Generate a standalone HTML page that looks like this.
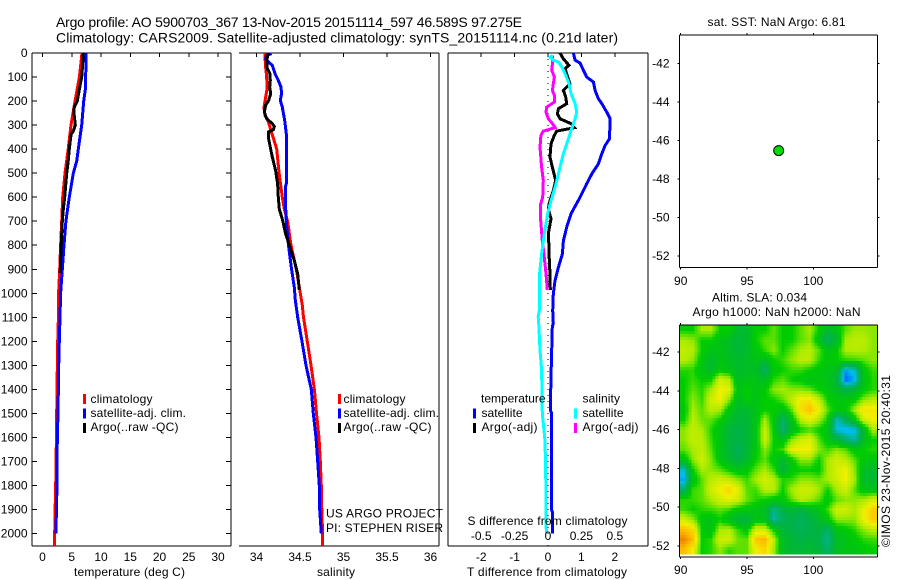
<!DOCTYPE html>
<html lang="en">
<head>
<meta charset="utf-8">
<title>Argo profile 5900703</title>
<style>
html,body{margin:0;padding:0;background:#fff;}
svg{display:block;}
text{font-family:"Liberation Sans",Arial,sans-serif;font-size:12px;fill:#000;}
</style>
</head>
<body>
<svg id="figure" xmlns="http://www.w3.org/2000/svg" width="900" height="580" viewBox="0 0 900 580">
  <rect x="0" y="0" width="900" height="580" fill="#fff"/>
  <text x="56" y="27" style="font-size:14px" textLength="466" lengthAdjust="spacing">Argo profile: AO 5900703_367 13-Nov-2015 20151114_597 46.589S 97.275E</text>
  <text x="56" y="42.5" style="font-size:14px" textLength="562" lengthAdjust="spacing">Climatology: CARS2009. Satellite-adjusted climatology: synTS_20151114.nc (0.21d later)</text>

  <g id="heat"></g>
  <g id="axes"></g>
  <g id="series"></g>
  <g id="labels"></g>

  <text x="74" y="576" textLength="111" lengthAdjust="spacing">temperature (deg C)</text>
  <text x="317" y="576" textLength="38" lengthAdjust="spacing">salinity</text>
  <text x="467.5" y="525" textLength="160" lengthAdjust="spacing">S difference from climatology</text>
  <text x="467" y="576" textLength="160" lengthAdjust="spacing">T difference from climatology</text>
  <text x="326" y="517.5" textLength="117" lengthAdjust="spacing">US ARGO PROJECT</text>
  <text x="326" y="532" textLength="117" lengthAdjust="spacing">PI: STEPHEN RISER</text>

  <g>
    <rect x="83" y="394" width="3" height="10" fill="#f00"/>
    <text x="90.5" y="403" textLength="62" lengthAdjust="spacing">climatology</text>
    <rect x="83" y="408.5" width="3" height="10" fill="#00f"/>
    <text x="90.5" y="417" textLength="95.5" lengthAdjust="spacing">satellite-adj. clim.</text>
    <rect x="83" y="423" width="3" height="10" fill="#000"/>
    <text x="90.5" y="431" textLength="88" lengthAdjust="spacing">Argo(..raw -QC)</text>
  </g>
  <g>
    <rect x="338" y="394" width="3" height="10" fill="#f00"/>
    <text x="343.5" y="403" textLength="62" lengthAdjust="spacing">climatology</text>
    <rect x="338" y="408.5" width="3" height="10" fill="#00f"/>
    <text x="343.5" y="417" textLength="95.5" lengthAdjust="spacing">satellite-adj. clim.</text>
    <rect x="338" y="423" width="3" height="10" fill="#000"/>
    <text x="343.5" y="431" textLength="88" lengthAdjust="spacing">Argo(..raw -QC)</text>
  </g>
  <g>
    <text x="481" y="402.5" textLength="64.5" lengthAdjust="spacing">temperature</text>
    <rect x="473" y="408.5" width="3" height="10" fill="#00f"/>
    <text x="481.5" y="417" textLength="41" lengthAdjust="spacing">satellite</text>
    <rect x="473" y="423" width="3" height="10" fill="#000"/>
    <text x="481.5" y="431" textLength="56" lengthAdjust="spacing">Argo(-adj)</text>
    <text x="582.5" y="402.5" textLength="37.5" lengthAdjust="spacing">salinity</text>
    <rect x="574" y="408.5" width="3" height="10" fill="#0ff"/>
    <text x="582.5" y="417" textLength="41" lengthAdjust="spacing">satellite</text>
    <rect x="574" y="423" width="3" height="10" fill="#f0f"/>
    <text x="582.5" y="431" textLength="56" lengthAdjust="spacing">Argo(-adj)</text>
  </g>

  <text x="707.5" y="26" textLength="138" lengthAdjust="spacing">sat. SST: NaN Argo: 6.81</text>
  <text x="712" y="301.5" textLength="95" lengthAdjust="spacing">Altim. SLA: 0.034</text>
  <text x="692.5" y="316" textLength="168" lengthAdjust="spacing">Argo h1000: NaN h2000: NaN</text>
  <text transform="translate(890,547) rotate(-90)" textLength="172" lengthAdjust="spacing">©IMOS 23-Nov-2015 20:40:31</text>
</svg>

<script>
// ---- Tick labels ----
const depthTicks = [0,100,200,300,400,500,600,700,800,900,1000,1100,1200,1300,1400,1500,1600,1700,1800,1900,2000];
const tempTicks = [0,5,10,15,20,25,30];
const salTicks = [34,34.5,35,35.5,36];
const salTickLabels = ['34','34.5','35','35.5','36'];
const tDiffTicks = [-2,-1,0,1,2];
const sDiffTicks = [-0.5,-0.25,0,0.25,0.5];
const sDiffTickLabels = ['-0.5','-0.25','0','0.25','0.5'];
const lonTicks = [90,95,100];
const latTicks = [-42,-44,-46,-48,-50,-52];

// ---- Temperature profiles (deg C) ----
const tempClimDepth = [0,100,200,300,400,500,600,700,800,900,1000,1100,1200,1400,1600,1800,1900,2000,2052];
const tempClim = [6.75,6.3,5.55,4.87,4.4,3.85,3.45,3.28,3.1,2.94,2.75,2.72,2.6,2.48,2.37,2.25,2.15,2.08,2.08];
const tempSatDepth = [0,100,150,200,300,400,450,500,600,700,800,900,1000,1100,1200,1300,1500,1600,1800,1900,2000];
const tempSat = [7.44,7.38,7.33,7.04,6.7,6.12,5.84,5.27,4.58,4.0,3.68,3.39,3.1,3.0,2.87,2.77,2.65,2.53,2.48,2.37,2.3];
const tempArgoDepth = [0,50,100,150,200,225,250,300,325,340,400,450,500,600,650,700,800,900,915];
const tempArgo = [6.98,6.85,6.7,6.3,5.95,5.44,5.38,5.6,5.27,4.87,4.58,4.4,4.13,3.8,3.56,3.39,3.2,3.05,3.02];

// ---- Salinity profiles ----
const salClimDepth = [0,50,100,150,200,225,260,275,300,325,350,380,400,500,600,650,700,800,900,1000,1050,1100,1200,1300,1400,1500,1600,1700,1800,1900,2000,2052];
const salClim = [34.098,34.102,34.117,34.121,34.098,34.086,34.098,34.125,34.148,34.167,34.19,34.216,34.232,34.26,34.297,34.32,34.358,34.397,34.458,34.504,34.527,34.54,34.584,34.626,34.665,34.69,34.718,34.733,34.745,34.75,34.76,34.76];
const salSatDepth = [3,10,24,37,51,86,114,142,169,197,225,281,336,544,558,642,725,808,892,975,1028,1058,1100,1200,1300,1400,1500,1600,1700,1800,1900,2000];
const salSat = [34.174,34.117,34.105,34.136,34.182,34.213,34.251,34.282,34.289,34.274,34.297,34.324,34.343,34.343,34.331,34.335,34.347,34.37,34.4,34.435,34.446,34.458,34.473,34.523,34.569,34.63,34.653,34.684,34.703,34.722,34.726,34.745];
const salArgoDepth = [0,30,65,86,114,142,169,197,218,246,274,294,306,319,329,350,392,433,489,544,600,649,697,753,808,864,919,986];
const salArgo = [34.136,34.117,34.124,34.155,34.159,34.152,34.163,34.14,34.105,34.09,34.117,34.182,34.205,34.194,34.136,34.136,34.159,34.182,34.22,34.243,34.251,34.262,34.301,34.335,34.385,34.435,34.473,34.492];

// ---- Difference profiles ----
const tDiffSatDepth = [0,30,42,72,100,121,156,190,211,246,274,357,385,419,461,503,544,600,669,725,781,836,892,947,1003,1072,1125,1139,1236,1347,1486,1500,1902,1916,2000];
const tDiffSat = [0.76,0.81,0.96,1.06,1.16,1.36,1.41,1.51,1.61,1.76,1.86,1.84,1.71,1.61,1.51,1.31,1.16,0.96,0.69,0.56,0.46,0.43,0.31,0.21,0.16,0.14,0.16,0.13,0.11,0.09,0.07,0.11,0.11,0.14,0.14];
const tDiffArgoDepth = [0,24,51,65,100,128,156,183,211,232,253,274,294,311,325,343,378,433,475,531,572,614,649,690,753,808,864,919,986];
const tDiffArgo = [0.36,0.46,0.63,0.51,0.59,0.66,0.46,0.53,0.56,0.31,0.28,0.36,0.69,0.79,0.26,0.19,0.09,0.06,0.13,0.23,0.16,0.06,0.01,0.09,0.01,0.03,0.04,0.06,0.07];
const sDiffSatDepth = [10,17,30,37,58,86,128,169,211,246,274,322,364,419,503,558,614,669,753,836,919,1003,1072,1097,1139,1236,1319,1500,1570,1611,1708,2000];
const sDiffSat = [0.033,0.015,0.04,0.078,0.103,0.128,0.158,0.173,0.203,0.215,0.203,0.173,0.148,0.115,0.078,0.053,0.023,-0.003,-0.028,-0.048,-0.063,-0.065,-0.065,-0.073,-0.068,-0.06,-0.048,-0.043,-0.03,-0.023,-0.018,-0.013];
const sDiffArgoDepth = [10,44,72,100,128,156,176,204,225,246,274,294,311,325,343,392,475,531,600,628,697,781,850,919,986];
const sDiffArgo = [0.033,0.033,0.028,0.048,0.04,0.033,0.048,0.048,-0.01,-0.015,0.003,0.033,0.053,-0.035,-0.053,-0.06,-0.048,-0.035,-0.04,-0.055,-0.055,-0.043,-0.028,-0.015,-0.005];

// ---- Float position on SST map ----
const floatLon = [97.39];
const floatLat = [-46.53];

// ---- Altimetry heatmap values (relative anomaly levels, rows north to south) ----
const slaGrid = [
[0,0,1,1,0,0,-1,-1,0,0,.5,0,0,.5,1,0,-1,-.5,.5,.9,.9,.8],
[1,.8,0,0,-.5,-.8,-1.2,-1,0,.5,.5,0,0,.5,.8,-.5,-2,-1,1,1.2,1.2,.8],
[1.3,1.1,0,-.5,-.5,-.8,-1.2,-1,-.3,.3,.8,0,.5,1,1.2,.5,-.5,-.2,1.1,1.2,1.1,.8],
[1.2,.8,-.3,-1,-.5,-.7,-1,-.8,-.5,-.8,0,.3,.8,1.2,1.2,.3,-.3,0,.2,.3,.5,.8],
[.2,.2,-.5,-1,-.2,-.5,-1,-.8,-.8,-2,-.3,0,.3,.3,0,-.3,-.5,-.8,-3.5,-3,-.3,.3],
[0,.3,0,0,1.5,1.2,-.8,-.5,-.5,-.8,.2,.5,0,-.2,-.5,-.3,-.5,-1.2,-4,-3.5,-.5,.2],
[0,.5,.2,1,2,1.8,-.5,0,-.5,-.2,.8,1,.8,.8,.6,0,-.3,-.8,-1.5,-1,-.2,.2],
[0,.8,.3,1.5,2,.8,-.8,-.2,-.5,0,0,.5,1.3,2.2,2.2,1.3,0,-.3,-.3,-.2,.8,1.2],
[-.3,1,.5,1.2,1,-.3,-1,-1,-.5,0,0,-.5,.5,2.3,3,2,.5,-.3,-.3,1,2.3,2.2],
[0,1.2,.6,.5,0,-.8,-1.2,-1.2,-.5,1,-.3,-2,-.5,1.2,1.8,1,0,-3,-1.8,-.5,1.5,2],
[.8,1.3,1,.2,-.5,-1.2,-1.5,-1.2,-.5,1.5,-.2,-2.2,-.8,0,.3,0,-.5,-3.2,-3.5,-3.3,-1,1],
[.8,1.3,1.2,.3,-.5,-1.2,-1.5,-1.2,-.5,1.5,0,-.5,.8,1.5,1.8,.5,-.3,-1,-2,-2.8,-.8,0],
[.5,1,1.3,.5,-.5,-1.2,-1.8,-1.2,-.3,.8,0,.3,1.8,2,2,.8,.3,.8,.5,-.3,0,.2],
[-.5,.8,1.5,.7,-.3,-1,-1.5,-1,0,.5,-.3,-1,-.2,.8,.8,0,1,1.5,1.2,.5,-.3,-.3],
[-3,0,1,.8,.5,0,-.5,-.2,.5,1,.3,-1.5,-.3,0,0,-.2,1,1.6,2,.8,-.8,-1],
[-3.5,-.5,.5,1.2,1.5,1.3,.8,.3,1,1.6,1.2,.2,.3,.8,.8,.6,1,1.5,2,1,-1,-1],
[-2,.3,.5,1.5,2,2.6,1.8,.5,.3,1.2,1.2,0,1,1.5,1.5,1,0,1,1.5,.5,-.5,-.5],
[.2,.3,.5,1,1.5,1.8,1.5,.6,.2,0,-.3,-.3,.5,1.2,1,.5,-.3,.5,.8,.8,1,1.5],
[.3,0,.2,.3,.5,.3,-.3,-.3,-.5,-.8,-2.5,-1.5,-1.2,-1.5,-1,-.5,.3,1.5,1.5,1,1.9,2.7],
[1.5,.8,-.3,-.5,0,-.7,-1.3,-1.5,-.5,-.5,-2.8,-1.8,-1.5,-1.8,-1.5,-1,-.3,.8,.8,.8,1.9,2.7],
[3,2.5,-.2,-.5,1,1.2,.3,-.3,1.5,1.5,0,-1.2,-1.5,-1.8,-1.5,-1.3,-2,-.5,-.2,.2,.8,1.2],
[3.8,3,0,.2,1.5,1.5,.6,.5,2.8,3.2,1.2,-.8,-1.2,-1.5,-1.3,-1.5,-2.5,-.8,-.5,-.2,.2,.3],
[3,2,0,.2,.8,.2,.5,.5,2,2.5,1,-.8,-1.2,-1.2,-1,-1.3,-2,-.8,-.5,-.5,-.2,0]
];

// ---- Axis functions ----
const yDepth = d => 53 + 0.2403 * d;
const xTemp = t => 42.5 + 5.85 * t;
const xSal = s => 256.5 + 87 * (s - 34);
const xTDiff = d => 548 + 33.4 * d;
const xSDiff = s => 548 + 133.6 * s;
const xLon = lon => 680.7 + 13.26 * (lon - 90);
const yLatSst = lat => 63.3 + 19.27 * (-42 - lat);
const yLatSla = lat => 352 + 19.4 * (-42 - lat);

const NS = 'http://www.w3.org/2000/svg';
function mk(parent, tag, attrs) {
  const el = document.createElementNS(NS, tag);
  for (const k in attrs) el.setAttribute(k, attrs[k]);
  parent.appendChild(el);
  return el;
}

const axesG = document.getElementById('axes');
const labelsG = document.getElementById('labels');
const seriesG = document.getElementById('series');
const heatG = document.getElementById('heat');

function axisLine(x1, y1, x2, y2, name) {
  const el = mk(axesG, 'line', {x1, y1, x2, y2, stroke: '#000', 'stroke-width': 1, 'shape-rendering': 'crispEdges'});
  
  
  return el;
}
function tickLabel(x, y, txt, anchor, name) {
  const el = mk(labelsG, 'text', {x, y, 'text-anchor': anchor});
  el.textContent = txt;
  
  
  return el;
}
function drawSeries(depths, values, xFn, color, name, width) {
  const pts = depths.map((d, i) => xFn(values[i]).toFixed(1) + ',' + yDepth(d).toFixed(1)).join(' ');
  const el = mk(seriesG, 'polyline', {points: pts, fill: 'none', stroke: color, 'stroke-width': width || 3, 'stroke-linejoin': 'miter', 'shape-rendering': 'crispEdges'});
  
  
  return el;
}

// ---- Heatmap ----
const heatLeft = 679.5, heatRight = 877, heatTop = 325, heatBottom = 554.7;
const colStops = [[-4,0,90,255],[-3.3,0,190,240],[-2.5,0,180,135],[-1.5,0,178,70],[-0.5,0,195,20],[0,0,205,0],[0.5,90,225,0],[1,170,235,0],[2,240,240,0],[3,255,190,0],[4,235,120,0]];
function slaColor(v) {
  if (v <= colStops[0][0]) return `rgb(${colStops[0][1]},${colStops[0][2]},${colStops[0][3]})`;
  for (let i = 1; i < colStops.length; i++) {
    if (v <= colStops[i][0]) {
      const a = colStops[i-1], b = colStops[i], t = (v - a[0]) / (b[0] - a[0]);
      return `rgb(${Math.round(a[1]+t*(b[1]-a[1]))},${Math.round(a[2]+t*(b[2]-a[2]))},${Math.round(a[3]+t*(b[3]-a[3]))})`;
    }
  }
  const z = colStops[colStops.length-1];
  return `rgb(${z[1]},${z[2]},${z[3]})`;
}
function sampleGrid(col, row) {
  const nr = slaGrid.length, nc = slaGrid[0].length;
  const c = Math.max(0, Math.min(nc - 1.001, col)), r = Math.max(0, Math.min(nr - 1.001, row));
  const c0 = Math.floor(c), r0 = Math.floor(r), fc = c - c0, fr = r - r0;
  return (slaGrid[r0][c0]*(1-fc) + slaGrid[r0][c0+1]*fc)*(1-fr) + (slaGrid[r0+1][c0]*(1-fc) + slaGrid[r0+1][c0+1]*fc)*fr;
}
(function drawHeat() {
  const nr = slaGrid.length, nc = slaGrid[0].length;
  const cellW = (heatRight - heatLeft) / nc, cellH = (heatBottom - heatTop) / nr;
  const step = 3;
  for (let y = heatTop; y < heatBottom; y += step) {
    for (let x = heatLeft; x < heatRight; x += step) {
      const col = (x + step/2 - heatLeft) / cellW - 0.5;
      const row = (y + step/2 - heatTop) / cellH - 0.5;
      const rect = mk(heatG, 'rect', {
        x: x, y: y,
        width: Math.min(step, heatRight - x), height: Math.min(step, heatBottom - y),
        fill: slaColor(sampleGrid(col, row)), 'shape-rendering': 'crispEdges'
      });
      
      
    }
  }
})();

// ---- Temperature panel axes ----
const panelTop = 53, panelBottom = 546;
axisLine(32, panelTop, 231, panelTop, 'temperature-top-axis');
axisLine(32, panelBottom, 231, panelBottom, 'temperature-bottom-axis');
axisLine(32, panelTop, 32, panelBottom, 'temperature-left-axis');
axisLine(231, panelTop, 231, panelBottom, 'temperature-right-axis');
depthTicks.forEach(d => {
  axisLine(32, yDepth(d), 37, yDepth(d), 'depth-tick-left');
  axisLine(226, yDepth(d), 231, yDepth(d), 'depth-tick-right');
  tickLabel(27.5, yDepth(d) + 4, String(d), 'end', 'depth-tick-label');
});
tempTicks.forEach(t => {
  axisLine(xTemp(t), panelTop, xTemp(t), panelTop + 4, 'temperature-tick');
  tickLabel(xTemp(t), 561, String(t), 'middle', 'temperature-tick-label');
});

// ---- Salinity panel axes ----
axisLine(239, panelTop, 439, panelTop, 'salinity-top-axis');
axisLine(239, panelBottom, 439, panelBottom, 'salinity-bottom-axis');
axisLine(439, panelTop, 439, panelBottom, 'salinity-right-axis');
salTicks.forEach((s, i) => {
  axisLine(xSal(s), panelTop, xSal(s), panelTop + 4, 'salinity-tick');
  tickLabel(xSal(s), 561, salTickLabels[i], 'middle', 'salinity-tick-label');
});

// ---- Difference panel axes ----
axisLine(448, panelTop, 648, panelTop, 'difference-top-axis');
axisLine(448, panelBottom, 648, panelBottom, 'difference-bottom-axis');
axisLine(448, panelTop, 448, panelBottom, 'difference-left-axis');
axisLine(648, panelTop, 648, panelBottom, 'difference-right-axis');
tDiffTicks.forEach(d => {
  axisLine(xTDiff(d), panelTop, xTDiff(d), panelTop + 4, 'difference-tick');
  tickLabel(xTDiff(d), 561, String(d), 'middle', 'difference-t-tick-label');
});
sDiffTicks.forEach((s, i) => {
  tickLabel(xSDiff(s), 540, sDiffTickLabels[i], 'middle', 'difference-s-tick-label');
});
const zeroLine = mk(axesG, 'line', {x1: xTDiff(0), y1: panelTop, x2: xTDiff(0), y2: panelBottom, stroke: '#000', 'stroke-width': 1, 'stroke-dasharray': '1 5', 'shape-rendering': 'crispEdges'});



// ---- Map axes ----
function mapAxes(top, bottom, yFn, prefix, labelY) {
  const left = 679.5, right = 877.5;
  axisLine(left, top, right, top, prefix + '-top-axis');
  axisLine(left, bottom, right, bottom, prefix + '-bottom-axis');
  axisLine(left, top, left, bottom, prefix + '-left-axis');
  axisLine(right, top, right, bottom, prefix + '-right-axis');
  lonTicks.forEach(lon => {
    axisLine(xLon(lon), top - 2, xLon(lon), top, prefix + '-lon-tick-top');
    axisLine(xLon(lon), bottom, xLon(lon), bottom + 2, prefix + '-lon-tick-bottom');
    tickLabel(xLon(lon), labelY, String(lon), 'middle', prefix + '-lon-tick-label');
  });
  latTicks.forEach(lat => {
    axisLine(left - 2, yFn(lat), left, yFn(lat), prefix + '-lat-tick-left');
    axisLine(right, yFn(lat), right + 2, yFn(lat), prefix + '-lat-tick-right');
    tickLabel(669.5, yFn(lat) + 4, String(lat), 'end', prefix + '-lat-tick-label');
  });
}
mapAxes(35, 267.5, yLatSst, 'sst-map', 285);
mapAxes(325, 557, yLatSla, 'sla-map', 574);

// ---- Series ----
drawSeries(tempClimDepth, tempClim, xTemp, '#f00', 'temperature-climatology-line');
drawSeries(tempSatDepth, tempSat, xTemp, '#00f', 'temperature-satellite-line');
drawSeries(tempArgoDepth, tempArgo, xTemp, '#000', 'temperature-argo-line');
drawSeries(salClimDepth, salClim, xSal, '#f00', 'salinity-climatology-line');
drawSeries(salSatDepth, salSat, xSal, '#00f', 'salinity-satellite-line');
drawSeries(salArgoDepth, salArgo, xSal, '#000', 'salinity-argo-line');
drawSeries(tDiffSatDepth, tDiffSat, xTDiff, '#00f', 'difference-t-satellite-line');
drawSeries(tDiffArgoDepth, tDiffArgo, xTDiff, '#000', 'difference-t-argo-line');
drawSeries(sDiffArgoDepth, sDiffArgo, xSDiff, '#f0f', 'difference-s-argo-line');
drawSeries(sDiffSatDepth, sDiffSat, xSDiff, '#0ff', 'difference-s-satellite-line');

// ---- Float marker ----
floatLon.forEach((lon, i) => {
  const dot = mk(seriesG, 'circle', {cx: xLon(lon), cy: yLatSst(floatLat[i]), r: 5, fill: '#00dd00', stroke: '#000', 'stroke-width': 1});
  
  
});
</script>
</body>
</html>
